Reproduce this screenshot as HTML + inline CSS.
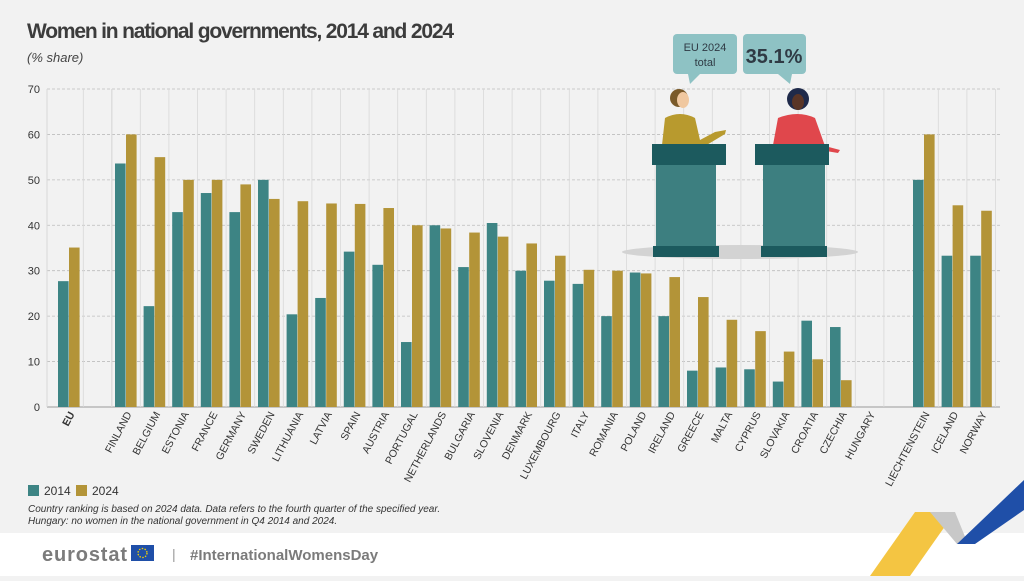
<!DOCTYPE html>
<html><head><meta charset="utf-8"><style>
body{margin:0;width:1024px;height:576px;overflow:hidden;background:#f2f2f2;font-family:"Liberation Sans",sans-serif}
</style></head><body>
<svg id="s" width="1024" height="576" viewBox="0 0 1024 576" xmlns="http://www.w3.org/2000/svg">
<rect width="1024" height="576" fill="#f2f2f2"/>
<rect y="533" width="1024" height="43" fill="#ffffff"/>
<text x="27" y="38" font-size="21" font-weight="bold" fill="#3c3c3c" font-family="Liberation Sans Narrow,Liberation Sans,sans-serif" textLength="427">Women in national governments, 2014 and 2024</text>
<text x="27" y="62" font-size="13" font-style="italic" fill="#444">(% share)</text>
<g id="grid"></g>
<g id="bars"></g>
<g id="labels" font-size="11" fill="#333"></g>
<!-- illustration -->
<ellipse cx="740" cy="252" rx="118" ry="7" fill="#d3d3d3"/>
<rect x="673" y="34" width="64" height="40" rx="4" fill="#8ec2c4"/>
<polygon points="688,74 700,74 690,84" fill="#8ec2c4"/>
<text x="705" y="51" font-size="11" text-anchor="middle" fill="#2f3a44">EU 2024</text>
<text x="705" y="66" font-size="11" text-anchor="middle" fill="#2f3a44">total</text>
<rect x="743" y="34" width="63" height="40" rx="4" fill="#8ec2c4"/>
<polygon points="778,74 792,74 790,84" fill="#8ec2c4"/>
<text x="774" y="63" font-size="20" font-weight="bold" text-anchor="middle" fill="#2f3a44">35.1%</text>
<circle cx="679" cy="98" r="9" fill="#7a5a2a"/><ellipse cx="683" cy="100" rx="6" ry="8" fill="#f0c8a0"/>
<path d="M662 145 L665 118 Q680 110 695 118 L700 140 L715 132 L726 130 L725 134 L705 146 Z" fill="#b89a2e"/>
<circle cx="798" cy="99" r="11" fill="#1f2a4a"/><ellipse cx="798" cy="102" rx="6" ry="8" fill="#5a3526"/>
<path d="M773 145 L778 118 Q798 110 815 118 L825 146 L840 150 L838 153 L820 150 Z" fill="#e0474c"/>
<rect x="652" y="144" width="74" height="21" fill="#1c5a5e"/>
<rect x="656" y="165" width="60" height="82" fill="#3d7f80"/>
<rect x="653" y="246" width="66" height="11" fill="#1c5a5e"/>
<rect x="755" y="144" width="74" height="21" fill="#1c5a5e"/>
<rect x="763" y="165" width="62" height="82" fill="#3d7f80"/>
<rect x="761" y="246" width="66" height="11" fill="#1c5a5e"/>
<!-- legend -->
<rect x="28" y="485" width="11" height="11" fill="#3d8484"/><text x="44" y="495" font-size="12" fill="#333">2014</text>
<rect x="76" y="485" width="11" height="11" fill="#b39438"/><text x="92" y="495" font-size="12" fill="#333">2024</text>
<text x="28" y="512" font-size="10" font-style="italic" fill="#333">Country ranking is based on 2024 data. Data refers to the fourth quarter of the specified year.</text>
<text x="28" y="524" font-size="10" font-style="italic" fill="#333">Hungary: no women in the national government in Q4 2014 and 2024.</text>
<text x="42" y="561" font-size="20" font-weight="bold" fill="#7b7b7b" textLength="85">eurostat</text>
<rect x="131" y="545" width="23" height="16" fill="#1f4fa8"/>
<circle cx="142.5" cy="553" r="4.5" fill="none" stroke="#f5d200" stroke-width="1.3" stroke-dasharray="1.5 1.4"/>
<text x="172" y="559" font-size="14" fill="#999">|</text>
<text x="190" y="560" font-size="15" font-weight="bold" fill="#7b7b7b">#InternationalWomensDay</text>
<polygon points="870,576 915,512 955,512 910,576" fill="#f4c542"/>
<polygon points="930,512 955,512 968,544 957,544" fill="#c8c8c8"/>
<polygon points="957,544 1024,480 1024,510 975,544" fill="#1f4fa8"/>
</svg>
<script>
const NS="http://www.w3.org/2000/svg";
function el(p,t,a,txt){const e=document.createElementNS(NS,t);for(const k in a)e.setAttribute(k,a[k]);if(txt!==undefined)e.textContent=txt;document.getElementById(p).appendChild(e);return e;}
const y0=407,u=4.543;
for(let i=0;i<=7;i++){const y=y0-i*10*u;
 if(i>0)el("grid","line",{x1:47,x2:1000,y1:y,y2:y,stroke:"#bdbdbd","stroke-dasharray":"3 2","stroke-width":0.8});
 el("labels","text",{x:40,y:y+4,"text-anchor":"end","font-size":11},String(i*10));}
el("grid","line",{x1:47,x2:1000,y1:y0,y2:y0,stroke:"#999","stroke-width":1});
const d=[["EU",27.7,35.1],["FINLAND",53.6,60],["BELGIUM",22.2,55],["ESTONIA",42.9,50],["FRANCE",47.1,50],["GERMANY",42.9,49],["SWEDEN",50,45.8],["LITHUANIA",20.4,45.3],["LATVIA",24,44.8],["SPAIN",34.2,44.7],["AUSTRIA",31.3,43.8],["PORTUGAL",14.3,40],["NETHERLANDS",40,39.3],["BULGARIA",30.8,38.4],["SLOVENIA",40.5,37.5],["DENMARK",30,36],["LUXEMBOURG",27.8,33.3],["ITALY",27.1,30.2],["ROMANIA",20,30],["POLAND",29.6,29.4],["IRELAND",20,28.6],["GREECE",8,24.2],["MALTA",8.7,19.2],["CYPRUS",8.3,16.7],["SLOVAKIA",5.6,12.2],["CROATIA",19,10.5],["CZECHIA",17.6,5.9],["HUNGARY",0,0],["LIECHTENSTEIN",50,60],["ICELAND",33.3,44.4],["NORWAY",33.3,43.2]];
d.forEach((r,i)=>{let c;if(i==0)c=69;else if(i<28)c=126+(i-1)*28.6;else c=924+(i-28)*28.6;
 el("grid","line",{x1:c+14.3,x2:c+14.3,y1:89,y2:y0,stroke:"#d8d8d8","stroke-width":0.8});
 if(i==1)el("grid","line",{x1:c-14.3,x2:c-14.3,y1:89,y2:y0,stroke:"#d8d8d8","stroke-width":0.8});
 if(i==0){el("grid","line",{x1:47,x2:47,y1:89,y2:y0,stroke:"#d8d8d8"});el("grid","line",{x1:c+14.3+28.6,x2:c+14.3+28.6,y1:89,y2:y0,stroke:"#d8d8d8"});}
 el("bars","rect",{x:c-11,y:y0-r[1]*u,width:10.6,height:r[1]*u,fill:"#3d8484"});
 el("bars","rect",{x:c,y:y0-r[2]*u,width:10.6,height:r[2]*u,fill:"#b39438"});
 const t=el("labels","text",{x:c+6,y:414,"text-anchor":"end",transform:`rotate(-62 ${c+6} 414)`,"font-size":10.5,"font-family":"Liberation Sans Narrow,Liberation Sans,sans-serif"},r[0]);
 if(i==0)t.setAttribute("font-weight","bold");
});
</script>
</body></html>
